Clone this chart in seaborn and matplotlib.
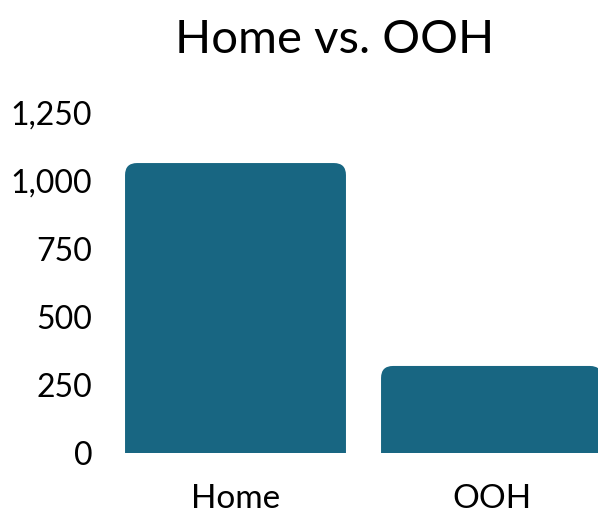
import matplotlib
matplotlib.use("Agg")
import matplotlib.pyplot as plt
import seaborn as sns
import pandas as pd
from matplotlib.patches import FancyBboxPatch

categories = ["Home", "OOH"]
values = [1066, 320]
yticks = [0, 250, 500, 750, 1000, 1250]

bar_color = "#186682"

sns.set_style("white")
plt.rcParams["font.family"] = ["Lato", "DejaVu Sans"]

df = pd.DataFrame({"place": categories, "count": values})

W, H = 598, 513
fig = plt.figure(figsize=(W / 100, H / 100), dpi=100)
# axes runs past the right edge, as in the reference (OOH bar is cut off)
ax = fig.add_axes([107.5 / W, 60 / H, 512 / W, 340 / H])

sns.barplot(data=df, x="place", y="count", color=bar_color, width=0.863,
            saturation=1, ax=ax)
ax.set_ylim(0, 1250)
ax.set_xlim(-0.5, 1.5)

# swap the plain bars for ones with rounded tops
radius_px = 12
x_per_px = 2.0 / 512
y_per_px = 1250 / 340
for p in list(ax.patches):
    x0, w, h = p.get_x(), p.get_width(), p.get_height()
    r = radius_px * x_per_px
    aspect = (radius_px * y_per_px) / r
    extra = radius_px * y_per_px * 2
    rb = FancyBboxPatch((x0, -extra), w, h + extra,
                        boxstyle=f"round,pad=0,rounding_size={r}",
                        mutation_aspect=aspect, facecolor=bar_color,
                        edgecolor="none", clip_on=True)
    p.remove()
    ax.add_patch(rb)

ax.set_yticks(yticks)
ax.set_yticklabels([f"{v:,}" for v in yticks], fontsize=23)
ax.tick_params(axis="x", labelsize=24, length=0, pad=22, labelcolor="black")
ax.tick_params(axis="y", length=0, pad=11, labelcolor="black")
ax.set_xlabel("")
ax.set_ylabel("")
sns.despine(ax=ax, left=True, bottom=True)

fig.text(335 / W, 1 - 40 / H, "Home vs. OOH", ha="center", va="center",
         fontsize=34, color="black")

fig.savefig("out.png", dpi=100)
